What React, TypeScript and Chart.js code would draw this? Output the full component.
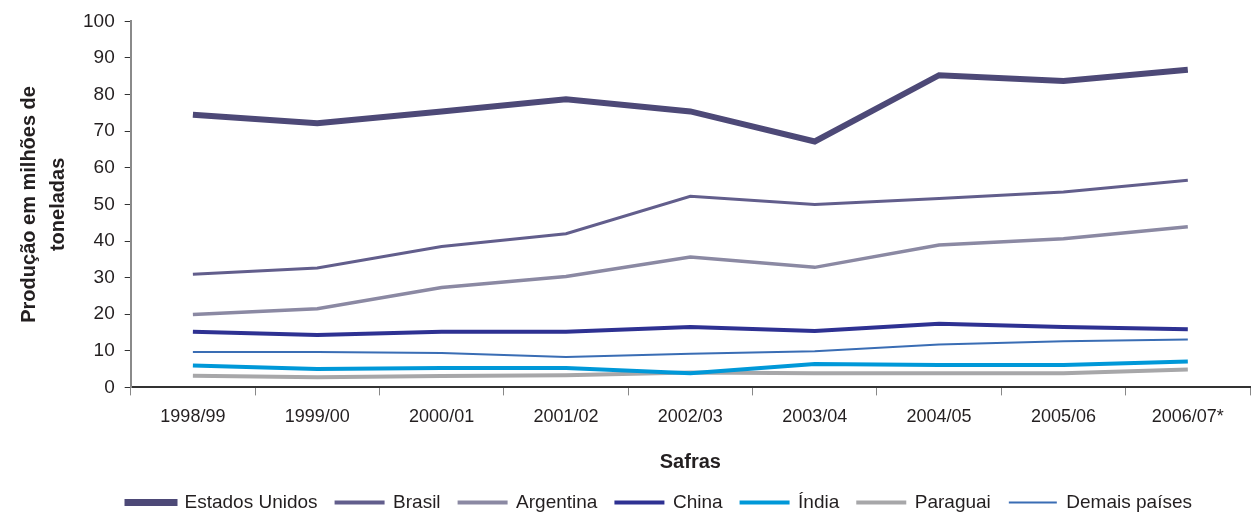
import React, { useEffect, useRef } from "react";
import { Chart, registerables } from "chart.js";

Chart.register(...registerables);

const safras = ["1998/99", "1999/00", "2000/01", "2001/02", "2002/03", "2003/04", "2004/05", "2005/06", "2006/07*"];
const estadosUnidos = [74.5, 72.2, 75.4, 78.7, 75.4, 67.2, 85.3, 83.7, 86.8];
const brasil = [30.9, 32.6, 38.5, 42.0, 52.2, 50.0, 51.6, 53.4, 56.6];
const argentina = [19.9, 21.5, 27.3, 30.3, 35.6, 32.8, 38.9, 40.6, 43.9];
const china = [15.2, 14.3, 15.2, 15.2, 16.5, 15.4, 17.4, 16.5, 15.9];
const india = [6.0, 5.0, 5.3, 5.3, 3.9, 6.4, 6.1, 6.1, 7.1];
const paraguai = [3.2, 2.8, 3.1, 3.3, 4.1, 3.9, 3.9, 3.9, 4.9];
const demaisPaises = [9.7, 9.7, 9.4, 8.3, 9.2, 9.9, 11.7, 12.6, 13.1];
const yTicks = [0, 10, 20, 30, 40, 50, 60, 70, 80, 90, 100];

const FONT = "'Liberation Sans', Arial, sans-serif";

const legendShift = {
  id: "legendShift",
  afterLayout(chart: any) {
    const lg = chart.legend;
    if (lg) {
      lg.left += 27;
      lg.right += 27;
    }
  },
};

export default function App() {
  const ref = useRef<HTMLCanvasElement>(null);
  useEffect(() => {
    if (!ref.current) return;
    const legendStroke = [5, 2, 2, 2, 2, 2, 0];
    const chart = new Chart(ref.current, {
      type: "line",
      data: {
        labels: safras,
        datasets: [
          { label: "Estados Unidos", data: estadosUnidos, borderColor: "#4d4977", backgroundColor: "#4d4977", borderWidth: 6 },
          { label: "Brasil", data: brasil, borderColor: "#625e8c", backgroundColor: "#625e8c", borderWidth: 3 },
          { label: "Argentina", data: argentina, borderColor: "#8b89a3", backgroundColor: "#8b89a3", borderWidth: 3.5 },
          { label: "China", data: china, borderColor: "#2e3192", backgroundColor: "#2e3192", borderWidth: 4 },
          { label: "Índia", data: india, borderColor: "#0098d8", backgroundColor: "#0098d8", borderWidth: 4 },
          { label: "Paraguai", data: paraguai, borderColor: "#a7a7a9", backgroundColor: "#a7a7a9", borderWidth: 4 },
          { label: "Demais países", data: demaisPaises, borderColor: "#3a6db4", backgroundColor: "#3a6db4", borderWidth: 2 },
        ].map((d) => ({ ...d, pointRadius: 0, tension: 0, fill: false })),
      },
      options: {
        responsive: false,
        animation: false,
        layout: { padding: { left: 15, right: 2, top: 19, bottom: -6 } },
        plugins: {
          tooltip: { enabled: false },
          legend: {
            position: "bottom",
            labels: {
              boxWidth: 48,
              boxHeight: 2,
              padding: 18,
              color: "#231f20",
              font: { family: FONT, size: 19 },
              generateLabels: (c) =>
                c.data.datasets.map((ds: any, i: number) => ({
                  text: ds.label,
                  fillStyle: ds.borderColor,
                  strokeStyle: ds.borderColor,
                  lineWidth: legendStroke[i],
                  fontColor: "#231f20",
                  hidden: false,
                  datasetIndex: i,
                })),
            },
          },
        },
        scales: {
          x: {
            offset: true,
            grid: { display: true, drawOnChartArea: false, offset: true, tickLength: 8, color: "#888888" },
            border: { color: "#333333", width: 2 },
            ticks: { color: "#231f20", font: { family: FONT, size: 18 }, padding: 11, maxRotation: 0 },
            title: { display: true, text: "Safras", color: "#231f20", font: { family: FONT, size: 20, weight: "bold" }, padding: { top: 11, bottom: 1 } },
          },
          y: {
            min: 0,
            max: 100,
            afterBuildTicks: (s: any) => { s.ticks = yTicks.map((v) => ({ value: v })); },
            grid: { display: true, drawOnChartArea: false, tickLength: 6, color: "#333333" },
            border: { color: "#8a8a8a", width: 2 },
            ticks: { color: "#231f20", font: { family: FONT, size: 19 }, padding: 10 },
            title: {
              display: true,
              text: ["Produção em milhões de", "toneladas"],
              color: "#231f20",
              font: { family: FONT, size: 20, weight: "bold", lineHeight: 1.45 },
              padding: { top: 0, bottom: 0 },
            },
          },
        },
      },
      plugins: [legendShift],
    });
    return () => chart.destroy();
  }, []);
  return (
    <div style={{ position: "absolute", left: 0, top: 0, width: 1252, height: 516, background: "#fff" }}>
      <canvas ref={ref} width={1252} height={516} />
    </div>
  );
}
